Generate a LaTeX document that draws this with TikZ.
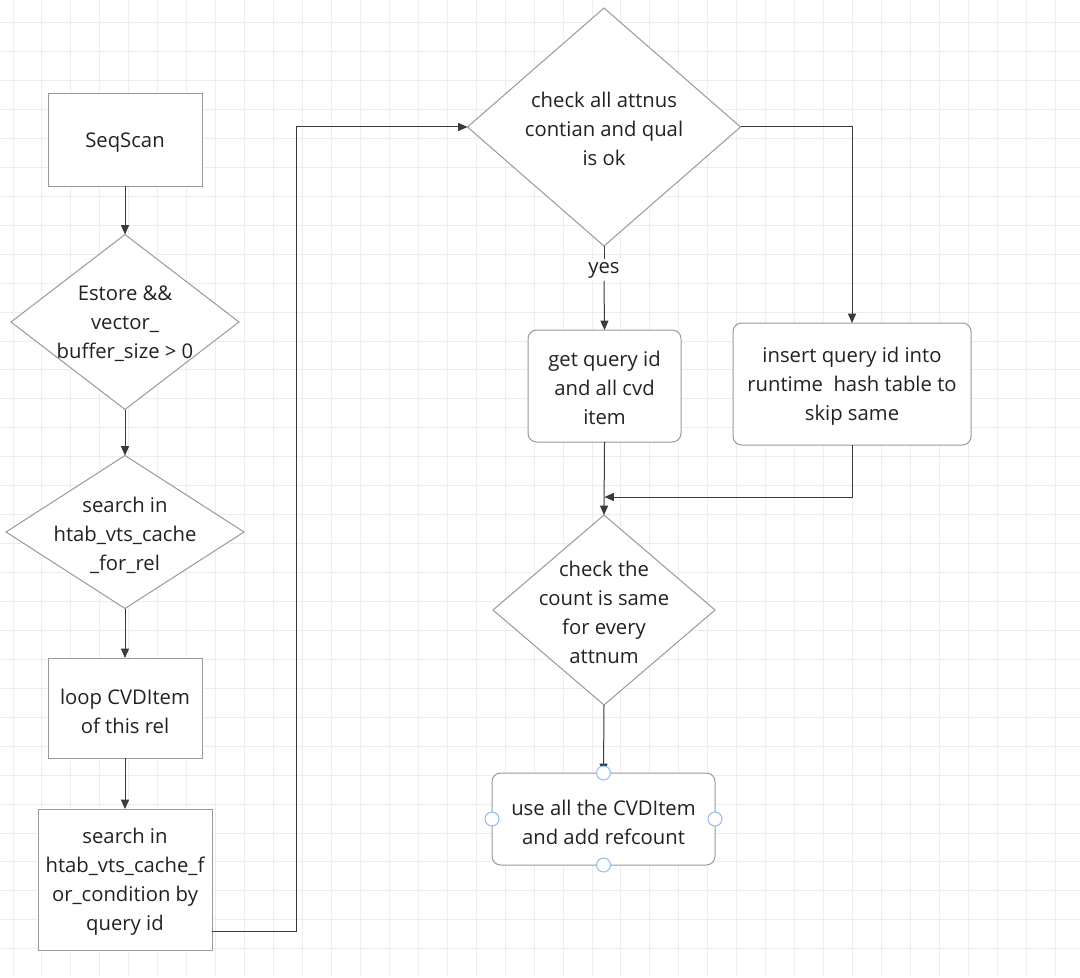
\documentclass[tikz,border=0pt]{standalone}
\usepackage{fontspec}
\setmainfont{Open Sans}
\usetikzlibrary{shapes.geometric,arrows.meta}
\definecolor{gridc}{HTML}{EDEDED}
\definecolor{shapec}{HTML}{999999}
\definecolor{linec}{HTML}{3A3A3A}
\definecolor{txtc}{HTML}{222222}
\definecolor{handlec}{HTML}{8CBCF2}
\tikzset{
  gridline/.style={draw=gridc, line width=0.75pt},
  sz/.style 2 args={minimum width=#1*0.75pt, minimum height=#2*0.75pt},
  boxnode/.style={rectangle, draw=shapec, fill=white, line width=0.75pt, inner sep=0pt, outer sep=0pt},
  rboxnode/.style={boxnode, rounded corners=6.5pt},
  dianode/.style={diamond, draw=shapec, fill=white, line width=0.75pt, inner sep=0pt, outer sep=0pt},
  txt/.style={align=center, text=txtc, font=\fontsize{15.2pt}{21.7pt}\selectfont, inner sep=0pt},
  conn/.style={draw=linec, line width=0.75pt, -{Triangle[length=7pt,width=6pt]}},
  plainconn/.style={draw=linec, line width=0.75pt},
  handle/.style={circle, draw=handlec, fill=white, line width=0.75pt, minimum size=10.5pt, inner sep=0pt}
}
\begin{document}
\begin{tikzpicture}[x=0.75pt,y=-0.75pt]
\useasboundingbox (0,0) rectangle (1080,977);
\fill[white] (0,0) rectangle (1080,977);
% grid
\foreach \i in {0,...,36} \draw[gridline] ({13+28.95*\i},0) -- ({13+28.95*\i},977);
\foreach \j in {0,...,32} \draw[gridline] (0,{22.7+28.94*\j}) -- (1080,{22.7+28.94*\j});
% left column
\node[boxnode, sz={154}{92}] (n1) at (125,140) {};
\node[txt] (n1t) at (125,143) {SeqScan};
\node[dianode, sz={228}{175}] (d2) at (125,322) {};
\node[txt] (d2t) at (125,324) {Estore \&\&\\vector\_\\buffer\_size > 0};
\node[dianode, sz={238}{153}] (d3) at (125,532) {};
\node[txt] (d3t) at (125,535) {search in\\htab\_vts\_cache\\\_for\_rel};
\node[boxnode, sz={154}{100}] (n4) at (125,708) {};
\node[txt] (n4t) at (125,711) {loop CVDItem\\of this rel};
\node[boxnode, sz={174}{141}] (n5) at (125,879.5) {};
\node[txt] (n5t) at (125,882) {search in\\htab\_vts\_cache\_f\\or\_condition by\\query id};
% right part
\node[dianode, sz={273}{238}] (d6) at (604,127) {};
\node[txt] (d6t) at (604,129) {check all attnus\\contian and qual\\is ok};
\node[rboxnode, sz={153}{112}] (n7) at (604.5,386) {};
\node[txt] (n7t) at (604.5,388) {get query id\\and all cvd\\item};
\node[rboxnode, sz={238}{122}] (n8) at (852,384) {};
\node[txt] (n8t) at (852,386) {insert query id into\\runtime\ \ hash table to\\skip same};
\node[dianode, sz={222}{190}] (d9) at (604,610) {};
\node[txt] (d9t) at (604,612) {check the\\count is same\\for every\\attnum};
\node[rboxnode, sz={223}{92}] (n10) at (603.5,819) {};
\node[txt] (n10t) at (603.5,822) {use all the CVDItem\\and add refcount};
% connectors
\draw[conn] (n1.south) -- (d2.north);
\draw[conn] (d2.south) -- (d3.north);
\draw[conn] (d3.south) -- (n4.north);
\draw[conn] (n4.south) -- (n5.north);
\coordinate (c1) at (n5.east |- 0,931);
\draw[conn] (c1) -- (296,931) -- (296,127) -- (d6.west);
\node[txt, fill=white, inner sep=2pt] (yes) at (604,270) {yes};
\draw[plainconn] (d6.south) -- (yes.north);
\draw[conn] (yes.south) -- (n7.north);
\draw[conn] (d6.east) -| (n8.north);
\draw[conn] (n7.south) -- (d9.north);
\coordinate (j1) at (n7.south |- 0,497);
\draw[conn] (n8.south) |- (j1);
\draw[conn] (d9.south) -- (n10.north);
% selection handles
\node[handle] (h1) at (n10.north) {};
\node[handle] (h2) at (n10.south) {};
\node[handle] (h3) at (n10.west) {};
\node[handle] (h4) at (n10.east) {};
\end{tikzpicture}
\end{document}
